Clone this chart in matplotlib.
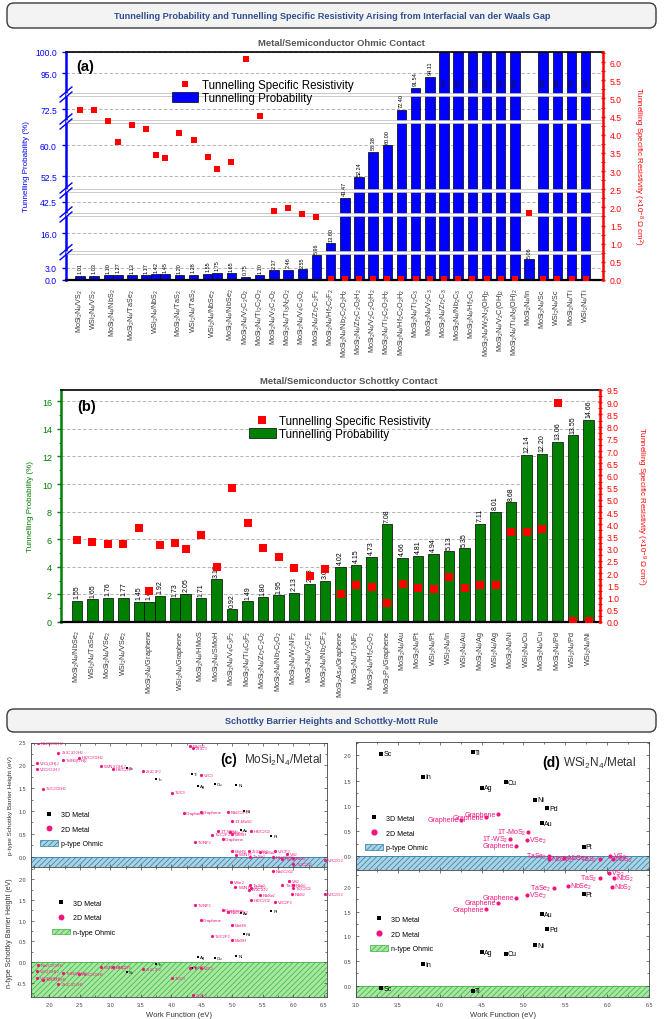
import re

import numpy as np
import matplotlib
matplotlib.use("Agg")
import matplotlib.pyplot as plt
from matplotlib.patches import FancyBboxPatch, Patch
from matplotlib.lines import Line2D
from matplotlib.ticker import MultipleLocator, FormatStrFormatter

plt.rcParams.update({
    "font.family": ["Liberation Sans", "DejaVu Sans"],
    "mathtext.fontset": "custom",
    "mathtext.rm": "Liberation Sans",
    "mathtext.it": "Liberation Sans:italic",
    "mathtext.bf": "Liberation Sans:bold",
    "hatch.linewidth": 0.5,
})

# ---------------- (a) metal/semiconductor ohmic contact ----------------
ohmic_groups = [
    "MoSi2N4/VS2", "WSi2N4/VS2", "MoSi2N4/NbS2", "MoSi2N4/TaSe2", "WSi2N4/NbS2",
    "MoSi2N4/TaS2", "WSi2N4/TaS2", "WSi2N4/NbSe2", "MoSi2N4/NbSe2", "MoSi2N4/V2C2O2",
    "MoSi2N4/Ti2C2O2", "MoSi2N4/V3C2O2", "MoSi2N4/Ti3N2O2", "MoSi2N4/V4C3O2",
    "MoSi2N4/Zr2C2F2", "MoSi2N4/Hf2C2F2", "MoSi2N4/Nb2C2O2H2", "MoSi2N4/Zr2C2O2H2",
    "MoSi2N4/V2C2O2H2", "MoSi2N4/Ti2C2O2H2", "MoSi2N4/Hf2C2O2H2", "MoSi2N4/Ti2C3",
    "MoSi2N4/V2C3", "MoSi2N4/Zr2C3", "MoSi2N4/Nb2C3", "MoSi2N4/Hf2C3",
    "MoSi2N4/W2N2(OH)2", "MoSi2N4/V2C(OH)2", "MoSi2N4/Ti4N3(OH)2", "MoSi2N4/In",
    "MoSi2N4/Sc", "WSi2N4/Sc", "MoSi2N4/Ti", "WSi2N4/Ti",
]
ohmic_prob = [
    [1.01], [1.03], [1.10, 1.27], [1.13], [1.17, 1.42, 1.45], [1.20], [1.28],
    [1.55, 1.75], [1.65], [0.75], [1.10], [2.37], [2.46], [2.55], [5.96], [13.60],
    [43.47], [52.24], [58.38], [60.00], [72.40], [91.54], [94.11], [100], [100],
    [100], [100], [100], [100], [5.06], [100], [100], [100], [100],
]
ohmic_rho = [
    [4.68], [4.68], [4.37, 3.79], [4.27], [4.16, 3.44, 3.37], [4.05], [3.86],
    [3.39, 3.06], [3.26], [6.08], [4.51], [1.89], [1.97], [1.82], [1.73], [0.02],
    [0.02], [0.02], [0.02], [0.02], [0.02], [0.02], [0.02], [0.02], [0.02],
    [0.02], [0.02], [0.02], [0.02], [1.84], [0.02], [0.02], [0.02], [0.02],
]
ohmic_ticks = [0.0, 3.0, 16.0, 42.5, 52.5, 60.0, 72.5, 95.0, 100.0]

# ---------------- (b) metal/semiconductor schottky contact ----------------
schottky_groups = [
    "MoSi2N4/NbSe2", "WSi2N4/TaSe2", "MoSi2N4/VSe2", "WSi2N4/VSe2", "MoSi2N4/Graphene",
    "WSi2N4/Graphene", "MoSi2N4/HMoS", "MoSi2N4/SMoH", "MoSi2N4/V4C3F2",
    "MoSi2N4/Ti4C3F2", "MoSi2N4/Zr2C2O2", "MoSi2N4/Nb2C2O2", "MoSi2N4/W2NF2",
    "MoSi2N4/V2CF2", "MoSi2N4/Nb2CF2", "MoSi2As4/Graphene", "MoSi2N4/Ti2NF2",
    "MoSi2N4/Hf2C2O2", "MoSi2P4/Graphene", "MoSi2N4/Au", "MoSi2N4/Pt", "WSi2N4/Pt",
    "WSi2N4/In", "WSi2N4/Au", "MoSi2N4/Ag", "WSi2N4/Ag", "MoSi2N4/Ni", "WSi2N4/Cu",
    "MoSi2N4/Cu", "MoSi2N4/Pd", "WSi2N4/Pd", "WSi2N4/Ni",
]
schottky_prob = [
    [1.55], [1.65], [1.76], [1.77], [1.45, 1.45, 1.92], [1.73, 2.05], [1.71], [3.10],
    [0.92], [1.49], [1.80], [1.95], [2.13], [2.78], [3.00], [4.02], [4.15], [4.73],
    [7.08], [4.66], [4.81], [4.94], [5.13], [5.35], [7.11], [8.01], [8.68], [12.14],
    [12.20], [13.06], [13.55], [14.66],
]
schottky_rho = [
    [3.37], [3.26], [3.19], [3.18], [3.84, 1.28, 3.17], [3.23, 2.99], [3.55], [2.27],
    [5.49], [4.07], [3.04], [2.67], [2.22], [1.90], [2.16], [1.13], [1.53], [1.45],
    [0.77], [1.56], [1.39], [1.35], [1.86], [1.41], [1.53], [1.53], [3.70], [3.70],
    [3.81], [8.98], [0.05], [0.05],
]

# ---------------- (c) MoSi2N4/metal barrier heights ----------------
c_metal_names = ["Sc", "In", "Ti", "Ag", "Cu", "Ni", "Pd", "Au", "Pt"]
c_metal_wf = [3.27, 3.75, 4.33, 4.43, 4.71, 5.06, 5.19, 5.14, 5.64]
c_metal_p = [1.93, 1.71, 1.80, 1.55, 1.60, 1.57, 0.99, 0.59, 0.46]
c_metal_n = [-0.25, -0.05, -0.15, 0.11, 0.10, 0.15, 0.68, 1.18, 1.24]

c_p_2d_names = [
    "Nb2C2O2H2", "Zr2C2O2H2", "V2C(OH)2", "Ti4N3(OH)2", "Hf2C2O2H2", "V2C2O2H2",
    "W2N2(OH)2", "Hf2C2F2", "Zr2C2F2", "Ti2C2O2H2", "Nb2C3", "Zr2C3", "V2C3", "Ti2C3",
    "Graphene", "Graphene", "Nb2C2F2", "1T-MoS2", "1T-WS2", "VSe2", "MoSH", "Hf2C2O2",
    "Ti2C2F2", "Ti2NF2", "Graphene", "MoHS", "Zr2C2O2", "NbSe2", "V2CF2", "VS2",
    "W2NF2", "TaSe2", "Nb2C2O2", "TaS2", "NbS2", "Ti2C2O2", "V2C2O2",
]
c_p_2d_wf = [
    1.82, 2.15, 1.80, 2.23, 2.48, 1.80, 2.84, 3.05, 3.54, 1.89, 4.30, 4.35, 4.48, 4.01,
    4.20, 4.48, 4.92, 4.99, 4.76, 4.96, 5.00, 5.31, 4.67, 4.38, 4.84, 5.00, 5.27, 5.45,
    5.69, 5.90, 5.06, 5.29, 5.66, 5.82, 5.99, 6.00, 6.51,
]
c_p_2d_sbh = [
    2.48, 2.28, 2.06, 2.11, 2.17, 1.91, 1.99, 1.91, 1.88, 1.49, 2.42, 2.37, 1.78, 1.40,
    0.95, 0.98, 0.98, 0.77, 0.56, 0.54, 0.50, 0.56, 0.48, 0.32, 0.39, 0.13, 0.11, 0.10,
    0.11, 0.06, 0.04, 0.00, -0.02, -0.05, -0.03, -0.16, -0.07,
]
c_n_2d_names = [
    "Nb2C2O2", "VS2", "NbS2", "Ti2C2O2", "NbS2", "V2C2O2", "TaS2", "TaSe2", "VSe2",
    "W2NF2", "V2CF2", "Zr2C2O2", "NbSe2", "Hf2C2O2", "V2C2F2", "Ti2NF2", "Graphene",
    "Nb2C2F2", "Graphene", "MoHS", "Ti2C2F2", "MoSH", "Nb2C2O2H2", "V2C(OH)2",
    "V2C2O2H2", "Ti2C2O2H2", "Zr2C2O2H2", "Ti4N3(OH)2", "Hf2C2O2H2", "W2N2(OH)2",
    "Hf2C2F2", "Zr2C2F2", "Nb2C3", "V2C3", "Ti2C3", "Zr2C3",
]
c_n_2d_wf = [
    5.66, 5.92, 5.99, 5.99, 5.98, 6.51, 5.82, 5.29, 4.97, 5.05, 5.31, 5.27, 5.45, 5.30,
    5.69, 4.39, 4.84, 4.92, 4.48, 5.00, 4.67, 5.00, 1.82, 1.80, 1.80, 1.89, 2.15, 2.23,
    2.48, 2.84, 3.05, 3.53, 4.30, 4.48, 4.01, 4.35,
]
c_n_2d_sbh = [
    2.21, 1.95, 1.87, 1.78, 1.64, 1.64, 1.86, 1.86, 1.93, 1.81, 1.80, 1.75, 1.62, 1.49,
    1.44, 1.38, 1.27, 1.21, 1.02, 0.89, 0.63, 0.54, -0.07, -0.21, -0.39, -0.43, -0.54,
    -0.26, -0.29, -0.13, -0.13, -0.17, -0.14, -0.15, -0.40, -0.81,
]

# ---------------- (d) WSi2N4/metal barrier heights ----------------
d_metal_names = ["Sc", "Ti", "In", "Cu", "Ag", "Ni", "Pd", "Au", "Pt"]
d_metal_wf = [3.30, 4.40, 3.80, 4.79, 4.50, 5.14, 5.28, 5.22, 5.72]
d_metal_p = [2.03, 2.06, 1.58, 1.47, 1.36, 1.12, 0.95, 0.66, 0.19]
d_metal_n = [-0.06, -0.11, 0.43, 0.65, 0.68, 0.82, 1.14, 1.45, 1.86]

d_p_2d_names = ["Graphene", "Graphene", "Graphene", "1T-MoS2", "1T-WS2", "VSe2",
                "Graphene", "TaSe2", "NbSe2", "NbSe2", "TaS2", "VS2", "NbS2"]
d_p_2d_wf = [4.26, 4.55, 4.70, 5.06, 4.84, 5.04, 4.91, 5.31, 5.30, 5.49, 5.91, 6.04, 6.07]
d_p_2d_sbh = [0.72, 0.77, 0.83, 0.49, 0.34, 0.32, 0.21, 0.01, -0.05, -0.03, -0.05, 0.00, -0.05]
d_n_2d_names = ["TaS2", "VS2", "NbS2", "NbS2", "TaSe2", "NbSe2", "Graphene", "VSe2",
                "Graphene", "Graphene"]
d_n_2d_wf = [5.91, 6.02, 6.08, 6.06, 5.36, 5.53, 4.91, 5.04, 4.70, 4.55]
d_n_2d_sbh = [2.18, 2.29, 2.18, 2.01, 1.98, 2.02, 1.79, 1.84, 1.68, 1.55]

BLUE = "#0000ff"
GREEN = "#008000"
RED = "#ff0000"
PINK = "#f2157f"
W, H = 664, 1020


def chem(s):
    # subscript the digits that follow an element symbol or a bracket
    return re.sub(r"(?<=[A-Za-z\)])(\d+)", r"$_{\1}$", s)


def bar_positions(groups):
    xs, centers = [], []
    cur = 0.0
    for vals in groups:
        g = [cur + 0.67 * i for i in range(len(vals))]
        xs.extend(g)
        centers.append(np.mean(g))
        cur = g[-1] + 1.0
    return np.array(xs), np.array(centers)


def px_axes(fig, x0, y0, x1, y1):
    return fig.add_axes([x0 / W, 1 - y1 / H, (x1 - x0) / W, (y1 - y0) / H])


def header(fig, y0, y1, text):
    box = FancyBboxPatch((0.07, (H - y1) / 100), 6.49, (y1 - y0) / 100,
                         boxstyle="round,pad=0,rounding_size=0.07",
                         transform=fig.dpi_scale_trans, facecolor="#f3f3f3",
                         edgecolor="#3a3a3a", lw=1.0)
    fig.add_artist(box)
    fig.text(0.5, 1 - (y0 + y1) / 2 / H, text, ha="center", va="center",
             fontsize=6.6, weight="bold", color="#2f4f8f")


def draw_bars(ax, groups, prob, rho, color, xlim, rlim, rho_ms, val_size, rho_label,
              left_lab_x, right_lab_x, tick_size):
    xs, centers = bar_positions(prob)
    vals = np.concatenate([np.array(v, float) for v in prob])
    rvals = np.concatenate([np.array(v, float) for v in rho])
    ax.bar(xs, vals, width=0.67, color=color, edgecolor="black", lw=0.5, zorder=2)
    ax.set_xlim(*xlim)
    ax.set_axisbelow(True)
    ax.yaxis.grid(True, ls=(0, (4, 2.5)), color="#a8a8a8", lw=0.6)
    ax.set_xticks(centers)
    ax.set_xticklabels([chem(g) for g in groups], rotation=90, fontsize=5.2,
                       color="#333333")
    ax.tick_params(axis="x", length=0, pad=5.5)
    ax.tick_params(axis="y", colors=color, labelsize=tick_size, width=1.0, length=3)
    ax.tick_params(axis="y", which="minor", colors=color, width=0.8, length=1.8)
    ax.spines["left"].set_color(color)
    ax.spines["left"].set_linewidth(1.8)
    ax.spines["right"].set_visible(False)
    ax.spines["top"].set_linewidth(1.2)
    ax.spines["bottom"].set_linewidth(1.6)
    ax.set_ylabel("Tunnelling Probability (%)", color=color, fontsize=5.8)
    ax.yaxis.set_label_coords(left_lab_x, 0.5)

    for x, v in zip(xs, vals):
        if v >= 100:
            ax.text(x, 93.0, "100", rotation=90, ha="center", va="center",
                    fontsize=val_size, color="#111133", zorder=4)
        else:
            ax.annotate(f"{v:.2f}", (x, v), xytext=(0, 1.8), textcoords="offset points",
                        rotation=90, ha="center", va="bottom", fontsize=val_size, zorder=4)

    ax2 = ax.twinx()
    ax2.plot(xs, rvals, "s", color=RED, ms=rho_ms, ls="none", zorder=5, mew=0)
    ax2.set_ylim(*rlim)
    ax2.yaxis.set_major_locator(MultipleLocator(0.5))
    ax2.yaxis.set_minor_locator(MultipleLocator(0.25))
    ax2.yaxis.set_major_formatter(FormatStrFormatter("%.1f"))
    ax2.tick_params(axis="y", colors=RED, labelsize=6.2, width=1.0, length=3,
                    direction="inout")
    ax2.tick_params(axis="y", which="minor", colors=RED, width=0.8, length=2.4,
                    direction="inout")
    for s in ("left", "top", "bottom"):
        ax2.spines[s].set_visible(False)
    ax2.spines["right"].set_color(RED)
    ax2.spines["right"].set_linewidth(1.8)
    ax2.set_ylabel(rho_label, color=RED, fontsize=5.8, rotation=270, va="bottom")
    ax2.yaxis.set_label_coords(right_lab_x, 0.5)
    return ax2


def bar_legend(ax2, color, anchor, ms):
    handles = [
        Line2D([], [], marker="s", color=RED, ls="none", ms=ms, mew=0),
        Patch(facecolor=color, edgecolor="black", lw=0.5),
    ]
    ax2.legend(handles, ["Tunnelling Specific Resistivity", "Tunnelling Probability"],
               loc="upper left", bbox_to_anchor=anchor, frameon=False, fontsize=8.3,
               handlelength=2.3, handleheight=1.0, handletextpad=0.3,
               labelspacing=0.05, borderpad=0, borderaxespad=0)


fig = plt.figure(figsize=(6.64, 10.2), dpi=100)

header(fig, 4, 29, "Tunnelling Probability and Tunnelling Specific Resistivity Arising "
                   "from Interfacial van der Waals Gap")
fig.text(0.514, 1 - 44 / H, "Metal/Semiconductor Ohmic Contact", ha="center", va="center",
         fontsize=6.8, weight="bold", color="#555555")

# ---- (a): probability axis broken into segments
kv = [0, 6.3, 11.8, 20.3, 39.6, 45.0, 49.4, 65.4, 69.8, 75.8, 90.3, 100]
kp = [0, 26, 29.5, 64, 67, 88, 91, 157, 160, 184, 187, 228]


def fwd(v):
    return np.interp(v, kv, kp)


def inv(p):
    return np.interp(p, kp, kv)


ax_a = px_axes(fig, 66, 53, 603, 281)
ax_a.set_yscale("function", functions=(fwd, inv))
ax_a.set_ylim(0, 100)
ax_a2 = draw_bars(ax_a, ohmic_groups, ohmic_prob, ohmic_rho, BLUE, (-0.99, 36.9),
                  (0, 6.28), 4.3, 4.0,
                  "Tunnelling Specific Resistivity (×10$^{-8}$ Ω cm$^{2}$)",
                  -0.067, 1.052, 6.2)
ax_a.set_ylim(0, 100)
ax_a.set_yticks(ohmic_ticks)
ax_a.yaxis.set_major_formatter(FormatStrFormatter("%.1f"))
ax_a.yaxis.set_minor_locator(matplotlib.ticker.NullLocator())

gaps = [(6.3, 11.8), (20.3, 39.6), (45.0, 49.4), (65.4, 69.8), (75.8, 90.3)]
for lo, hi in gaps:
    ax_a.axhspan(lo, hi, facecolor="white", edgecolor="#b5b5b5", lw=0.5, zorder=2.6)
    yc = (fwd(lo) + fwd(hi)) / 2 / kp[-1]
    for d in (-0.011, 0.011):
        ax_a.plot([-0.011, 0.011], [yc + d - 0.022, yc + d + 0.022], color=BLUE, lw=1.0,
                  transform=ax_a.transAxes, clip_on=False, zorder=6)

ax_a.text(0.02, 0.94, "(a)", transform=ax_a.transAxes, fontsize=10.5, weight="bold",
          va="center")
bar_legend(ax_a2, BLUE, (0.197, 0.88), 4.3)

# ---- (b)
fig.text(0.526, 1 - 381 / H, "Metal/Semiconductor Schottky Contact", ha="center",
         va="center", fontsize=6.8, weight="bold", color="#555555")
ax_b = px_axes(fig, 61, 391, 600, 623)
ax_b.set_ylim(0, 16.82)
ax_b.yaxis.set_major_locator(MultipleLocator(2))
ax_b.yaxis.set_minor_locator(MultipleLocator(1))
ax_b2 = draw_bars(ax_b, schottky_groups, schottky_prob, schottky_rho, GREEN,
                  (-1.03, 33.74), (0, 9.5), 5.8, 5.0,
                  "Tunnelling Specific Resistivity (×10$^{-9}$ Ω cm$^{2}$)",
                  -0.05, 1.063, 6.5)
ax_b.text(0.03, 0.932, "(b)", transform=ax_b.transAxes, fontsize=10.5, weight="bold",
          va="center")
bar_legend(ax_b2, GREEN, (0.349, 0.892), 5.8)

# ---- (c) and (d)
header(fig, 710, 733, "Schottky Barrier Heights and Schottky-Mott Rule")

P_FACE, P_HATCH = "#a9d3e4", "#2f7aa3"
N_FACE, N_HATCH = "#a6e8a0", "#3cb043"


def sbh_axes(ax, ylim, xlim, face, hatch_col, m_names, m_wf, m_sbh, t_names, t_wf, t_sbh,
             txt, ms, left_names=()):
    ax.axhspan(ylim[0], 0, facecolor=face, edgecolor=hatch_col, hatch="//////", lw=0.6,
               zorder=1)
    ax.plot(m_wf, m_sbh, "s", color="black", ms=ms * 0.85, ls="none", zorder=3, mew=0)
    ax.plot(t_wf, t_sbh, "o", color=PINK, ms=ms, ls="none", zorder=3, mew=0)
    for n, x, y in zip(m_names, m_wf, m_sbh):
        ax.annotate(n, (x, y), xytext=(1.5, 0), textcoords="offset points", va="center",
                    ha="left", fontsize=txt, color="black")
    for n, x, y in zip(t_names, t_wf, t_sbh):
        left = any(k in n for k in left_names)
        ax.annotate(chem(n), (x, y), xytext=(-1.5 if left else 1.5, 0),
                    textcoords="offset points", va="center",
                    ha="right" if left else "left", fontsize=txt, color=PINK)
    ax.set_xlim(*xlim)
    ax.set_ylim(*ylim)
    ax.xaxis.set_major_locator(MultipleLocator(0.5))
    ax.xaxis.set_minor_locator(MultipleLocator(0.25))
    ax.yaxis.set_major_locator(MultipleLocator(0.5))
    ax.yaxis.set_minor_locator(MultipleLocator(0.25))
    ax.xaxis.set_major_formatter(FormatStrFormatter("%.1f"))
    ax.yaxis.set_major_formatter(FormatStrFormatter("%.1f"))
    ax.tick_params(which="both", direction="in", top=True, right=True, labelsize=4.0,
                   colors="#444444", width=0.5)
    ax.tick_params(which="major", length=2.2)
    ax.tick_params(which="minor", length=1.2)
    for s in ax.spines.values():
        s.set_linewidth(0.6)
        s.set_color("#444444")


def sbh_legend(ax, anchor, face, hatch_col, kind, fs, ms):
    handles = [
        Line2D([], [], marker="s", color="black", ls="none", ms=ms, mew=0),
        Line2D([], [], marker="o", color=PINK, ls="none", ms=ms * 1.4, mew=0),
        Patch(facecolor=face, edgecolor=hatch_col, hatch="//////", lw=0.5),
    ]
    ax.legend(handles, ["3D Metal", "2D Metal", f"{kind}-type Ohmic"], loc="upper left",
              bbox_to_anchor=anchor, frameon=False, fontsize=fs, handlelength=2.6,
              handleheight=0.8, handletextpad=0.4, labelspacing=1.1, borderpad=0,
              borderaxespad=0)


c_top = px_axes(fig, 31, 743.5, 327, 868)
c_bot = px_axes(fig, 31, 868, 327, 998)
sbh_axes(c_top, (-0.23, 2.5), (1.7, 6.55), P_FACE, P_HATCH, c_metal_names, c_metal_wf,
         c_metal_p, c_p_2d_names, c_p_2d_wf, c_p_2d_sbh, 3.2, 2.3)
sbh_axes(c_bot, (-0.85, 2.3), (1.7, 6.55), N_FACE, N_HATCH, c_metal_names, c_metal_wf,
         c_metal_n, c_n_2d_names, c_n_2d_wf, c_n_2d_sbh, 3.2, 2.3)
c_top.tick_params(labelbottom=False)
sbh_legend(c_top, (0.03, 0.45), P_FACE, P_HATCH, "p", 5.0, 3.0)
sbh_legend(c_bot, (0.071, 0.75), N_FACE, N_HATCH, "n", 5.0, 3.0)
c_top.set_ylabel("p-type Schottky Barrier Height (eV)", fontsize=4.6, color="#333333")
c_top.yaxis.set_label_coords(-0.06, 0.5)
c_bot.set_ylabel("n-type Schottky Barrier Height (eV)", fontsize=5.0, color="#333333")
c_bot.yaxis.set_label_coords(-0.06, 0.5)
c_bot.set_xlabel("Work Function (eV)", fontsize=5.5, color="#333333", labelpad=3)
c_top.text(0.64, 0.867, "(c)", transform=c_top.transAxes, fontsize=10, weight="bold",
           va="center")
c_top.text(0.72, 0.867, chem("MoSi2N4/Metal"), transform=c_top.transAxes, fontsize=8.5,
           va="center", color="#333333")

d_top = px_axes(fig, 356, 742.7, 649, 871)
d_bot = px_axes(fig, 356, 871, 649, 998.3)
left_d = ("Graphene", "1T", "TaS")
sbh_axes(d_top, (-0.27, 2.27), (3.0, 6.5), P_FACE, P_HATCH, d_metal_names, d_metal_wf,
         d_metal_p, d_p_2d_names, d_p_2d_wf, d_p_2d_sbh, 5.0, 3.0, left_d)
sbh_axes(d_bot, (-0.24, 2.35), (3.0, 6.5), N_FACE, N_HATCH, d_metal_names, d_metal_wf,
         d_metal_n, d_n_2d_names, d_n_2d_wf, d_n_2d_sbh, 5.0, 3.0, left_d)
d_top.tick_params(labelbottom=False)
sbh_legend(d_top, (0.03, 0.43), P_FACE, P_HATCH, "p", 5.0, 3.2)
sbh_legend(d_bot, (0.048, 0.64), N_FACE, N_HATCH, "n", 5.0, 3.2)
d_bot.set_xlabel("Work Function (eV)", fontsize=5.5, color="#333333", labelpad=3)
d_top.text(0.634, 0.84, "(d)", transform=d_top.transAxes, fontsize=10, weight="bold",
           va="center")
d_top.text(0.706, 0.84, chem("WSi2N4/Metal"), transform=d_top.transAxes, fontsize=8.5,
           va="center", color="#333333")

fig.savefig("out.png", dpi=100)
